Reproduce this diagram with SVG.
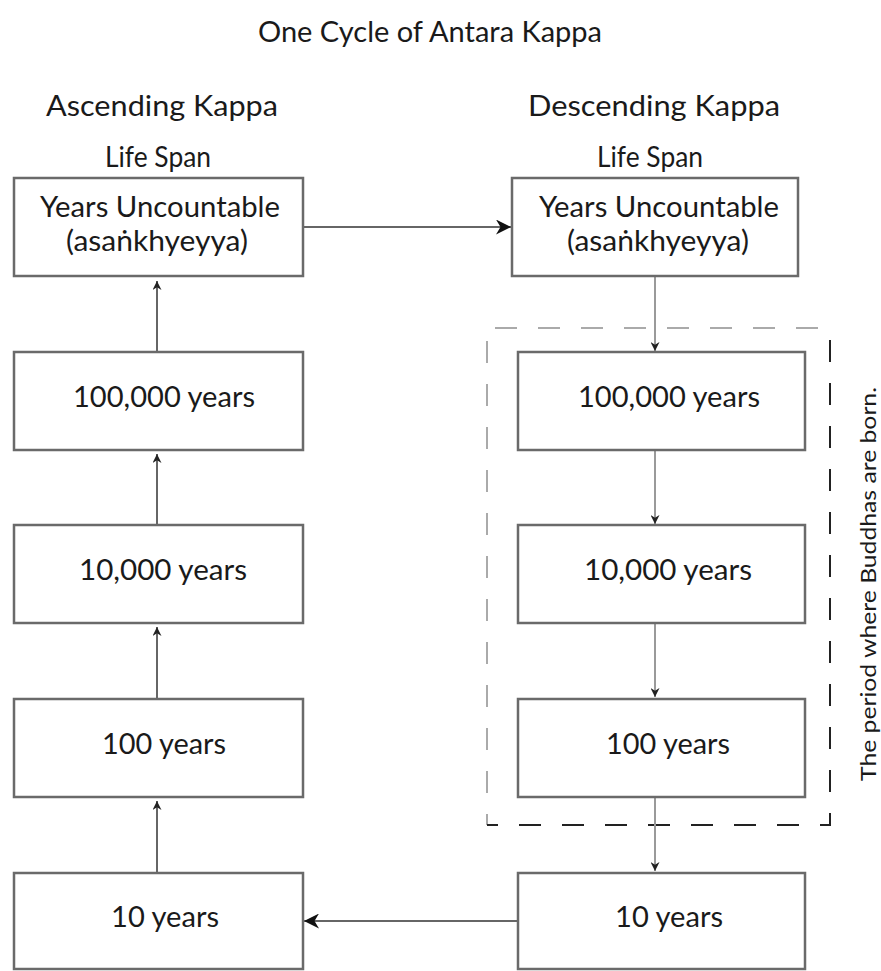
<svg xmlns="http://www.w3.org/2000/svg" width="881" height="971" viewBox="0 0 881 971">
<defs>
<style>
text{font-family:Lato,"Open Sans","DejaVu Sans",sans-serif;fill:#1a1a1a;text-anchor:middle;font-size:28px}
.box{fill:#fff;stroke:#6a6a6a;stroke-width:2.5}
.cd{stroke:#333;stroke-width:1.5;fill:none}
.cg{stroke:#9a9a9a;stroke-width:2;fill:none}
</style>
<marker id="ah" viewBox="0 0 10 10" refX="10" refY="5" markerWidth="9" markerHeight="9" markerUnits="userSpaceOnUse" orient="auto"><path d="M0,0L10,5L0,10L3,5z" fill="#222"/></marker>
<marker id="ahl" viewBox="0 0 10 10" refX="10" refY="5" markerWidth="15" markerHeight="15" markerUnits="userSpaceOnUse" orient="auto"><path d="M0,0L10,5L0,10L3,5z" fill="#111"/></marker>
</defs>
<rect width="881" height="971" fill="#fff"/>
<text x="430" y="42" textLength="344" lengthAdjust="spacingAndGlyphs">One Cycle of Antara Kappa</text>
<text x="162" y="116" textLength="232" lengthAdjust="spacingAndGlyphs">Ascending Kappa</text>
<text x="158" y="167" textLength="106" lengthAdjust="spacingAndGlyphs">Life Span</text>
<text x="654" y="116" textLength="252" lengthAdjust="spacingAndGlyphs">Descending Kappa</text>
<text x="650" y="167" textLength="106" lengthAdjust="spacingAndGlyphs">Life Span</text>

<g id="period">
<path d="M487,825V328H830" fill="none" stroke="#aaa" stroke-width="2" stroke-dasharray="22,21" stroke-dashoffset="11"/>
<path d="M487,825H830V328" fill="none" stroke="#222" stroke-width="2" stroke-dasharray="22,21" stroke-dashoffset="11"/>
<text transform="translate(876,584) rotate(-90)" style="font-size:22px" textLength="394" lengthAdjust="spacingAndGlyphs">The period where Buddhas are born.</text>
</g>

<g id="connectors">
<path class="cd" d="M157,352V281" marker-end="url(#ah)"/>
<path class="cd" d="M157,525V454" marker-end="url(#ah)"/>
<path class="cd" d="M157,698V627" marker-end="url(#ah)"/>
<path class="cd" d="M157,872V801" marker-end="url(#ah)"/>
<path class="cd" d="M303,227H511" marker-end="url(#ahl)"/>
<path class="cd" d="M518,921H304" marker-end="url(#ahl)"/>
<path class="cg" d="M655,276V351" marker-end="url(#ah)"/>
<path class="cg" d="M655,450V524" marker-end="url(#ah)"/>
<path class="cg" d="M655,622V697" marker-end="url(#ah)"/>
<path class="cg" d="M655,797V871" marker-end="url(#ah)"/>
</g>

<g id="a-unc"><rect class="box" x="14" y="178" width="289" height="98"/><text x="160" y="217" textLength="240" lengthAdjust="spacingAndGlyphs">Years Uncountable</text><text x="157" y="251" textLength="182" lengthAdjust="spacingAndGlyphs">(asaṅkhyeyya)</text></g>
<g id="a-100000"><rect class="box" x="14" y="352" width="289" height="98"/><text x="164" y="407" textLength="182" lengthAdjust="spacingAndGlyphs">100,000 years</text></g>
<g id="a-10000"><rect class="box" x="14" y="525" width="289" height="98"/><text x="163" y="580" textLength="168" lengthAdjust="spacingAndGlyphs">10,000 years</text></g>
<g id="a-100"><rect class="box" x="14" y="699" width="289" height="98"/><text x="164" y="754" textLength="124" lengthAdjust="spacingAndGlyphs">100 years</text></g>
<g id="a-10"><rect class="box" x="14" y="873" width="289" height="96"/><text x="165" y="927" textLength="108" lengthAdjust="spacingAndGlyphs">10 years</text></g>

<g id="d-unc"><rect class="box" x="512" y="178" width="286" height="98"/><text x="659" y="217" textLength="240" lengthAdjust="spacingAndGlyphs">Years Uncountable</text><text x="658" y="251" textLength="182" lengthAdjust="spacingAndGlyphs">(asaṅkhyeyya)</text></g>
<g id="d-100000"><rect class="box" x="518" y="352" width="287" height="98"/><text x="669" y="407" textLength="182" lengthAdjust="spacingAndGlyphs">100,000 years</text></g>
<g id="d-10000"><rect class="box" x="518" y="525" width="287" height="98"/><text x="668" y="580" textLength="168" lengthAdjust="spacingAndGlyphs">10,000 years</text></g>
<g id="d-100"><rect class="box" x="518" y="699" width="287" height="98"/><text x="668" y="754" textLength="124" lengthAdjust="spacingAndGlyphs">100 years</text></g>
<g id="d-10"><rect class="box" x="518" y="873" width="287" height="96"/><text x="669" y="927" textLength="108" lengthAdjust="spacingAndGlyphs">10 years</text></g>
</svg>
